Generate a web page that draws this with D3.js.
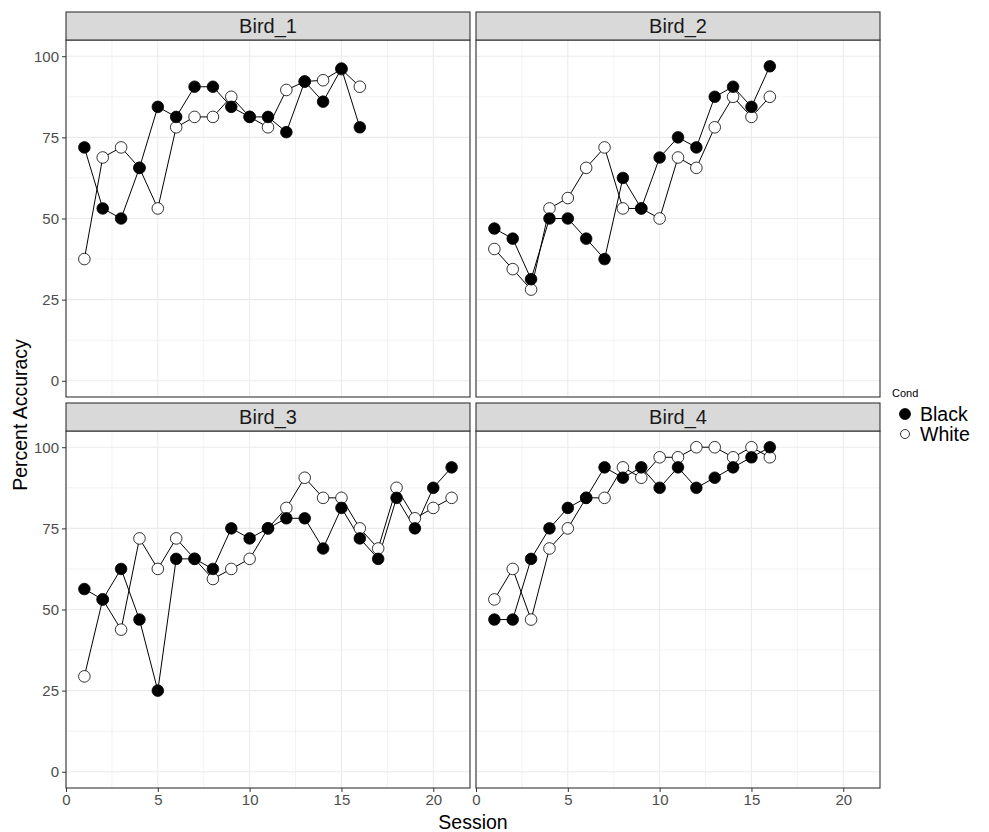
<!DOCTYPE html>
<html>
<head>
<meta charset="utf-8">
<script src="https://cdn.jsdelivr.net/npm/d3@7"></script>
<style>
  body { margin: 0; background: #fff; }
  svg { font-family: "Liberation Sans", Arial, sans-serif; }
</style>
</head>
<body>
<svg id="chart" width="989" height="832"></svg>
<script>
// data
var birds = ['Bird_1', 'Bird_2', 'Bird_3', 'Bird_4'];
var conds = ['White', 'Black'];

var bird1Black = [71.9, 53.1, 50, 65.6, 84.4, 81.3, 90.6, 90.6, 84.4, 81.3, 81.3, 76.6, 92.2, 86, 96.2, 78.1];
var bird1White = [37.5, 68.8, 71.9, 65.6, 53.1, 78.1, 81.3, 81.3, 87.5, 81.3, 78.1, 89.6, 92.2, 92.6, 96, 90.6];
var bird2Black = [46.9, 43.8, 31.3, 50, 50, 43.8, 37.5, 62.5, 53.1, 68.8, 75, 71.9, 87.5, 90.6, 84.4, 96.9];
var bird2White = [40.6, 34.4, 28.1, 53.1, 56.3, 65.6, 71.9, 53.1, 53.1, 50, 68.8, 65.6, 78.1, 87.5, 81.3, 87.5];
var bird3Black = [56.3, 53.1, 62.5, 46.9, 25, 65.6, 65.6, 62.5, 75, 71.9, 75, 78.1, 78.1, 68.8, 81.3, 71.9, 65.6, 84.4, 75, 87.5, 93.8];
var bird3White = [29.4, 53.1, 43.8, 71.9, 62.5, 71.9, 65.6, 59.4, 62.5, 65.6, 75, 81.3, 90.6, 84.4, 84.4, 75, 68.8, 87.5, 78.1, 81.3, 84.4];
var bird4Black = [46.9, 46.9, 65.6, 75, 81.3, 84.4, 93.8, 90.6, 93.8, 87.5, 93.8, 87.5, 90.6, 93.8, 96.9, 100];
var bird4White = [53.1, 62.5, 46.9, 68.8, 75, 84.4, 84.4, 93.8, 90.6, 96.9, 96.9, 100, 100, 96.9, 100, 96.9];

var xTicks = [0, 5, 10, 15, 20];
var yTicks = [0, 25, 50, 75, 100];
var xMinor = [2.5, 7.5, 12.5, 17.5];
var yMinor = [12.5, 37.5, 62.5, 87.5];

var series = {
  Bird_1: { Black: bird1Black, White: bird1White },
  Bird_2: { Black: bird2Black, White: bird2White },
  Bird_3: { Black: bird3Black, White: bird3White },
  Bird_4: { Black: bird4Black, White: bird4White }
};

var svg = d3.select('#chart');
var panelW = 404, panelH = 357, stripH = 28;
var panelX = [66, 476];
var panelY = [40, 431];

var x = d3.scaleLinear().domain([0, 22]).range([0, panelW]);
var y = d3.scaleLinear().domain([-5, 105]).range([panelH, 0]);

var line = d3.line()
  .x(function(d) { return x(d.s); })
  .y(function(d) { return y(d.v); });

birds.forEach(function(bird, i) {
  var col = i % 2, row = Math.floor(i / 2);
  var g = svg.append('g')
    .attr('transform', 'translate(' + panelX[col] + ',' + panelY[row] + ')');

  // grid
  g.selectAll('.vminor').data(xMinor).enter().append('line')
    .attr('x1', x).attr('x2', x).attr('y1', 0).attr('y2', panelH)
    .attr('stroke', '#ebebeb').attr('stroke-width', 0.6);
  g.selectAll('.hminor').data(yMinor).enter().append('line')
    .attr('y1', y).attr('y2', y).attr('x1', 0).attr('x2', panelW)
    .attr('stroke', '#ebebeb').attr('stroke-width', 0.6);
  g.selectAll('.vmajor').data(xTicks).enter().append('line')
    .attr('x1', x).attr('x2', x).attr('y1', 0).attr('y2', panelH)
    .attr('stroke', '#ebebeb').attr('stroke-width', 1.1);
  g.selectAll('.hmajor').data(yTicks).enter().append('line')
    .attr('y1', y).attr('y2', y).attr('x1', 0).attr('x2', panelW)
    .attr('stroke', '#ebebeb').attr('stroke-width', 1.1);

  // lines + points
  conds.forEach(function(c) {
    var pts = series[bird][c].map(function(v, k) { return { s: k + 1, v: v }; });
    g.append('path').datum(pts)
      .attr('d', line).attr('fill', 'none')
      .attr('stroke', '#000').attr('stroke-width', 1);
  });
  conds.forEach(function(c) {
    var pts = series[bird][c].map(function(v, k) { return { s: k + 1, v: v }; });
    g.selectAll('.pt-' + c).data(pts).enter().append('circle')
      .attr('cx', function(d) { return x(d.s); })
      .attr('cy', function(d) { return y(d.v); })
      .attr('r', 5.8)
      .attr('fill', c == 'Black' ? '#000' : '#fff')
      .attr('stroke', '#000').attr('stroke-width', 0.8);
  });

  // panel border
  g.append('rect').attr('width', panelW).attr('height', panelH)
    .attr('fill', 'none').attr('stroke', '#333').attr('stroke-width', 1.1);

  // strip
  g.append('rect').attr('y', -stripH).attr('width', panelW).attr('height', stripH)
    .attr('fill', '#d9d9d9').attr('stroke', '#333').attr('stroke-width', 1.1);
  g.append('text').attr('x', panelW / 2).attr('y', -stripH / 2 + 7)
    .attr('text-anchor', 'middle').attr('font-size', 20).attr('fill', '#1a1a1a')
    .text(bird);

  // y axis on left column
  if (col == 0) {
    var ya = g.append('g').call(d3.axisLeft(y).tickValues(yTicks).tickSize(4).tickPadding(3));
    ya.select('.domain').remove();
    ya.selectAll('line').attr('stroke', '#333');
    ya.selectAll('text').attr('font-size', 15).attr('fill', '#4d4d4d')
      .attr('font-family', 'Liberation Sans, Arial, sans-serif');
  }
  // x axis on bottom row
  if (row == 1) {
    var xa = g.append('g').attr('transform', 'translate(0,' + panelH + ')')
      .call(d3.axisBottom(x).tickValues(xTicks).tickSize(4).tickPadding(2));
    xa.select('.domain').remove();
    xa.selectAll('line').attr('stroke', '#333');
    xa.selectAll('text').attr('font-size', 15).attr('fill', '#4d4d4d')
      .attr('font-family', 'Liberation Sans, Arial, sans-serif');
  }
});

// axis titles
svg.append('text').attr('x', 473).attr('y', 829).attr('text-anchor', 'middle')
  .attr('font-size', 19.5).attr('fill', '#000').text('Session');
svg.append('text').attr('transform', 'translate(27,415) rotate(-90)')
  .attr('text-anchor', 'middle').attr('font-size', 19.5).attr('fill', '#000')
  .text('Percent Accuracy');

// legend
var lg = svg.append('g').attr('transform', 'translate(892,0)');
lg.append('text').attr('x', 0).attr('y', 397).attr('font-size', 11).attr('fill', '#000').text('Cond');
['Black', 'White'].forEach(function(c, k) {
  var cy = 414 + k * 20;
  lg.append('circle').attr('cx', 13).attr('cy', cy).attr('r', c == 'Black' ? 5.5 : 4.5)
    .attr('fill', c == 'Black' ? '#000' : '#fff').attr('stroke', '#000').attr('stroke-width', 0.8);
  lg.append('text').attr('x', 28).attr('y', cy + 7).attr('font-size', 19.5).attr('fill', '#000').text(c);
});
</script>
</body>
</html>
